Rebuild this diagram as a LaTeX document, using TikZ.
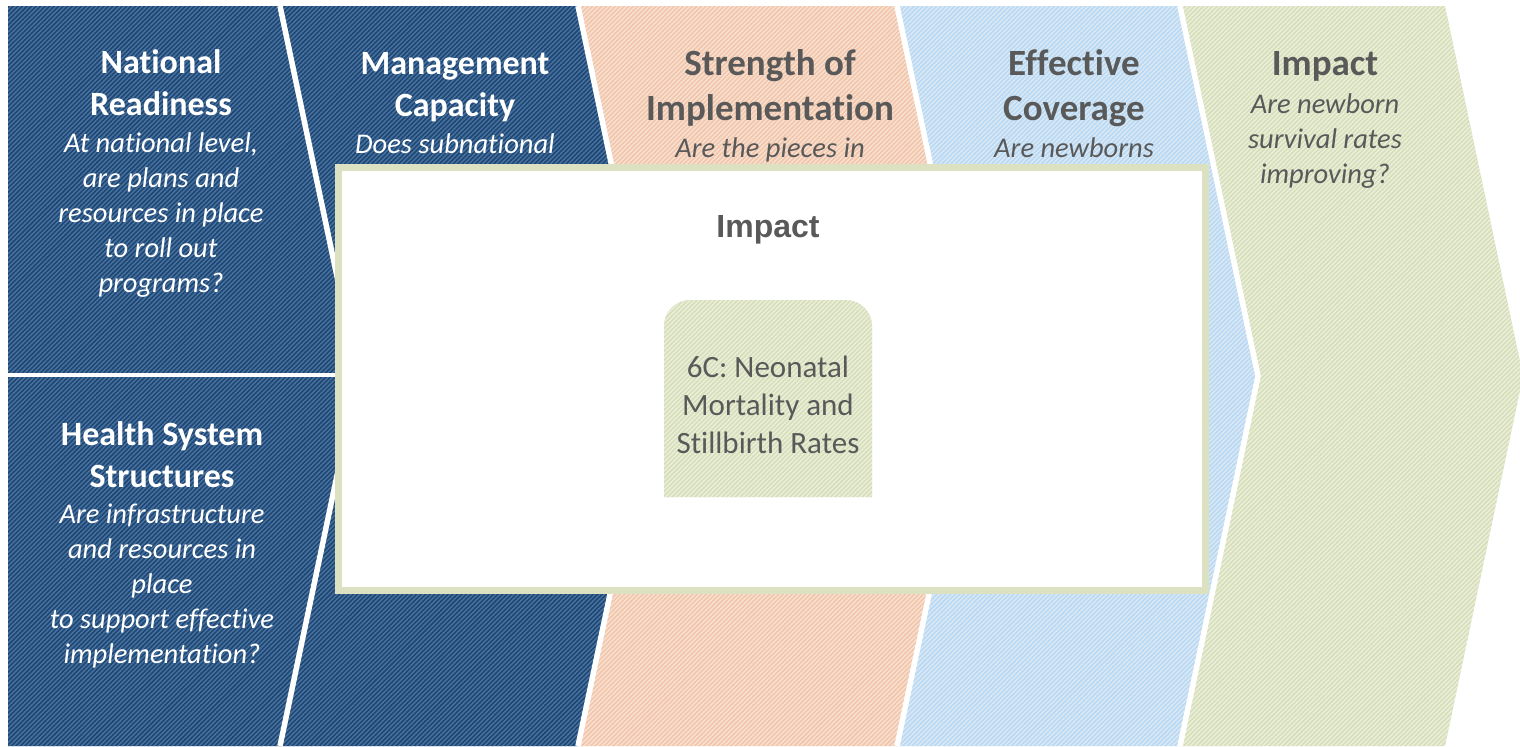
\documentclass[tikz,border=0pt]{standalone}
\usepackage{fontspec}
\setmainfont{Carlito}[Ligatures={NoCommon,NoRequired,NoContextual}]
\newfontfamily\arialfont{Liberation Sans}
\usetikzlibrary{patterns.meta}
\definecolor{dblue}{HTML}{1B4675}
\definecolor{dbluestripe}{HTML}{4C739D}
\definecolor{peach}{HTML}{F0C5A9}
\definecolor{peachstripe}{HTML}{F9E1D2}
\definecolor{lblue}{HTML}{B7D9F5}
\definecolor{lbluestripe}{HTML}{DCE9F3}
\definecolor{lgreen}{HTML}{D6DEB9}
\definecolor{lgreenstripe}{HTML}{EBEFDC}
\definecolor{boxborder}{HTML}{DCE2C1}
\definecolor{txtgray}{HTML}{595959}
\newcommand{\tp}{\rule{0pt}{0.85em}}
\tikzset{
  stripes/.style 2 args={fill=#1, postaction={pattern={Lines[angle=45,distance=1.6pt,line width=0.7pt]}, pattern color=#2}},
  sepline/.style={draw=white, line width=2.75pt},
  hdA/.style={anchor=north, align=center, inner sep=0pt, font=\fontsize{17}{21}\selectfont\bfseries},
  hdB/.style={anchor=north, align=center, inner sep=0pt, font=\fontsize{18.5}{22.5}\selectfont\bfseries},
  hdBone/.style={anchor=base, inner sep=0pt, font=\fontsize{18.5}{22.5}\selectfont\bfseries},
  qmulti/.style={anchor=north, align=center, inner sep=0pt, font=\fontsize{14.25}{17.5}\selectfont\itshape},
  qone/.style={anchor=base, inner sep=0pt, font=\fontsize{14.25}{17.5}\selectfont\itshape},
  whitetxt/.style={text=white},
  graytxt/.style={text=txtgray}
}
\begin{document}
\begin{tikzpicture}[x=0.5pt,y=-0.5pt]
\useasboundingbox (0,0) rectangle (1520,746);
% chevrons
\path[stripes={dblue}{dbluestripe}] (8,6) -- (280,6) -- (358,376) -- (280,746) -- (8,746) -- cycle;
\path[stripes={dblue}{dbluestripe}] (280,6) -- (578,6) -- (656,376) -- (578,746) -- (280,746) -- (358,376) -- cycle;
\path[stripes={peach}{peachstripe}] (578,6) -- (897,6) -- (975,376) -- (897,746) -- (578,746) -- (656,376) -- cycle;
\path[stripes={lblue}{lbluestripe}] (897,6) -- (1180,6) -- (1258,376) -- (1180,746) -- (897,746) -- (975,376) -- cycle;
\path[stripes={lgreen}{lgreenstripe}] (1180,6) -- (1445,6) -- (1523,376) -- (1445,746) -- (1180,746) -- (1258,376) -- cycle;
% separators
\coordinate (s1t) at (280,6); \coordinate (s1m) at (358,376); \coordinate (s1b) at (280,746);
\coordinate (s2t) at (578,6); \coordinate (s2m) at (656,376); \coordinate (s2b) at (578,746);
\coordinate (s3t) at (897,6); \coordinate (s3m) at (975,376); \coordinate (s3b) at (897,746);
\coordinate (s4t) at (1180,6); \coordinate (s4m) at (1258,376); \coordinate (s4b) at (1180,746);
\coordinate (hl) at (8,375); \coordinate (hr) at (358,375);
\draw[sepline] (s1t) -- (s1m) -- (s1b);
\draw[sepline] (s2t) -- (s2m) -- (s2b);
\draw[sepline] (s3t) -- (s3m) -- (s3b);
\draw[sepline] (s4t) -- (s4m) -- (s4b);
\draw[draw=white, line width=2.4pt] (hl) -- (hr);
% texts
\node[hdA, whitetxt] (natH) at (161,44.1) {\tp National\\Readiness};
\node[qmulti, whitetxt] (natQ) at (161,127.8) {\tp At national level,\\are plans and\\resources in place\\to roll out\\programs?};
\node[hdA, whitetxt] (hsH) at (162,416.1) {\tp Health System\\Structures};
\node[qmulti, whitetxt] (hsQ) at (162,498.8) {\tp Are infrastructure\\and resources in\\place\\to support effective\\implementation?};
\node[hdA, whitetxt] (mgH) at (455,45.1) {\tp Management\\Capacity};
\node[qone, whitetxt] (mgQ) at (455,153) {Does subnational};
\node[hdB, graytxt] (stH) at (770,43.5) {\tp Strength of\\Implementation};
\node[qone, graytxt] (stQ) at (770,157) {Are the pieces in};
\node[hdB, graytxt] (ecH) at (1074,43.5) {\tp Effective\\Coverage};
\node[qone, graytxt] (ecQ) at (1074,157) {Are newborns};
\node[hdBone, graytxt] (imH) at (1325,75) {Impact};
\node[qmulti, graytxt] (imQ) at (1325,88.8) {\tp Are newborn\\survival rates\\improving?};
% center box
\node[draw=boxborder, line width=3.5pt, fill=white, minimum width=433.5pt, minimum height=211.5pt, inner sep=0pt, anchor=north west] (cbox) at (334.5,163.5) {};
\node[anchor=base, inner sep=0pt, text=txtgray, font=\arialfont\fontsize{16}{19}\selectfont\bfseries] (cboxT) at (768,237) {Impact};
\path[stripes={lgreen}{lgreenstripe}] (664,497) -- (664,326) arc[start angle=180, end angle=270, radius=26] -- (846,300) arc[start angle=270, end angle=360, radius=26] -- (872,497) -- cycle;
\node[anchor=north, align=center, inner sep=0pt, text=txtgray, font=\fontsize{15.5}{19}\selectfont] (inner) at (768,350.6) {\tp 6C: Neonatal\\Mortality and\\Stillbirth Rates};
\end{tikzpicture}
\end{document}
